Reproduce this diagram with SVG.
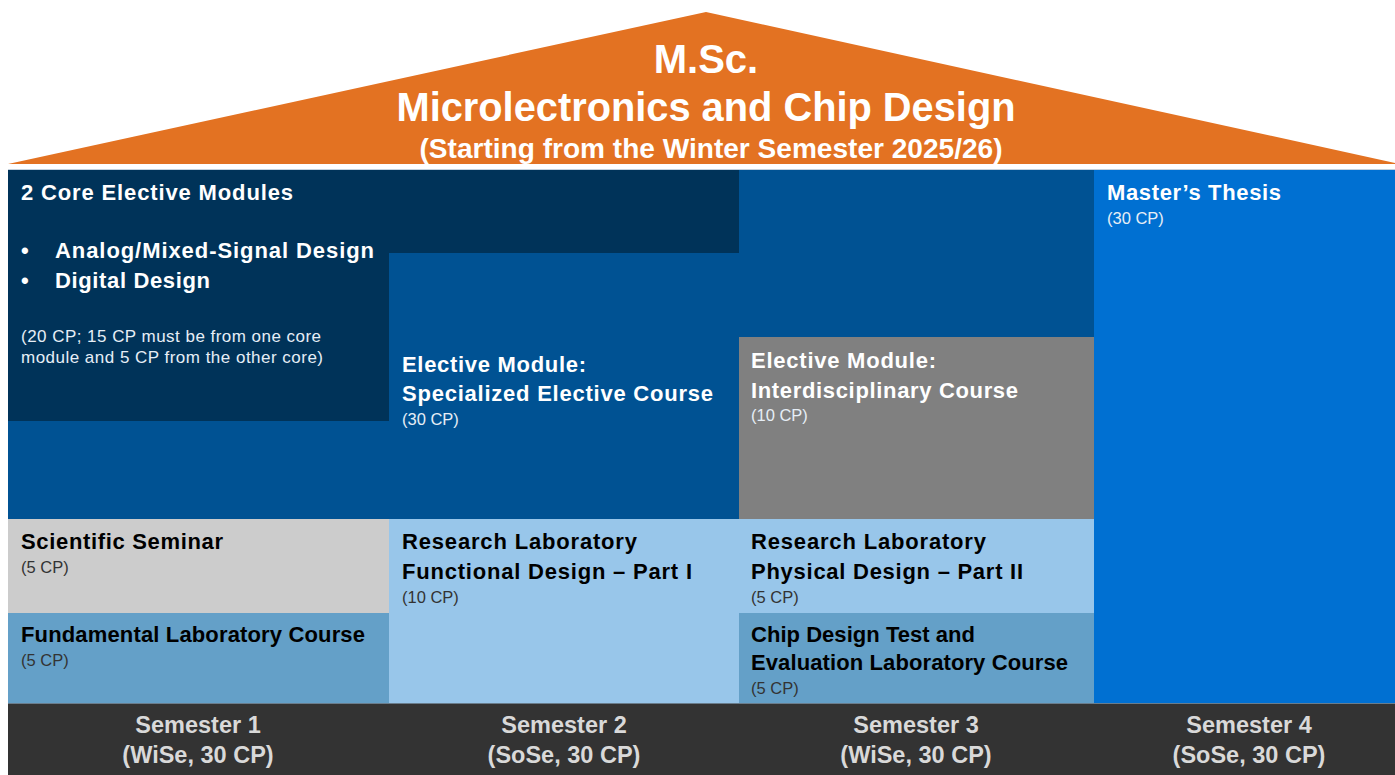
<svg xmlns="http://www.w3.org/2000/svg" width="1395" height="775" viewBox="0 0 1395 775">
  <style>
    .t { font-family: "Liberation Sans", Arial, sans-serif; font-weight: bold; font-size: 22px; }
    .w { fill: #ffffff; }
    .k { fill: #000000; }
    .s { font-family: "Liberation Sans", Arial, sans-serif; font-size: 16.5px; }
    .n { font-family: "Liberation Sans", Arial, sans-serif; font-size: 17px; }
    .sw { fill: #e6eef6; }
    .sk { fill: #333333; }
    .sem { font-family: "Liberation Sans", Arial, sans-serif; font-weight: bold; font-size: 23.5px; fill: #d9d9d9; text-anchor: middle; }
  </style>
  <rect x="0" y="0" width="1395" height="775" fill="#ffffff"/>

  <g id="roof">
    <polygon points="8,164 706,12 1395,163 1395,164" fill="#e37222"/>
    <text x="706" y="73" text-anchor="middle" font-family="Liberation Sans, Arial, sans-serif" font-weight="bold" font-size="40" fill="#ffffff">M.Sc.</text>
    <text x="706" y="121" text-anchor="middle" font-family="Liberation Sans, Arial, sans-serif" font-weight="bold" font-size="40" fill="#ffffff" textLength="619" lengthAdjust="spacingAndGlyphs">Microlectronics and Chip Design</text>
    <text x="711" y="158" text-anchor="middle" font-family="Liberation Sans, Arial, sans-serif" font-weight="bold" font-size="28" fill="#ffffff" textLength="583" lengthAdjust="spacingAndGlyphs">(Starting from the Winter Semester 2025/26)</text>
  </g>

  <line x1="8" y1="169.5" x2="1395" y2="169.5" stroke="#c3d0dc" stroke-width="1"/>

  <g id="specialized-elective">
    <rect x="8" y="170" width="1086" height="349" fill="#005293"/>
    <text class="t w" x="402" y="372" textLength="184" lengthAdjust="spacing">Elective Module:</text>
    <text class="t w" x="402" y="401" textLength="311" lengthAdjust="spacing">Specialized Elective Course</text>
    <text class="s sw" x="402" y="425">(30 CP)</text>
  </g>

  <g id="core-elective">
    <polygon points="8,170 739,170 739,253 389,253 389,421 8,421" fill="#003359"/>
    <text class="t w" x="21" y="200" textLength="272" lengthAdjust="spacing">2 Core Elective Modules</text>
    <text class="t w" x="21" y="258">•</text>
    <text class="t w" x="55" y="258" textLength="319" lengthAdjust="spacing">Analog/Mixed-Signal  Design</text>
    <text class="t w" x="21" y="288">•</text>
    <text class="t w" x="55" y="288" textLength="155" lengthAdjust="spacing">Digital Design</text>
    <text class="n sw" x="21" y="342" textLength="300" lengthAdjust="spacing">(20 CP; 15 CP must be from one core</text>
    <text class="n sw" x="21" y="363" textLength="302" lengthAdjust="spacing">module and 5 CP from the other core)</text>
  </g>

  <g id="interdisciplinary">
    <rect x="739" y="337" width="355" height="182" fill="#808080"/>
    <text class="t w" x="751" y="368" textLength="185" lengthAdjust="spacing">Elective Module:</text>
    <text class="t w" x="751" y="398" textLength="267" lengthAdjust="spacing">Interdisciplinary  Course</text>
    <text class="s sw" x="751" y="421">(10 CP)</text>
  </g>

  <g id="masters-thesis">
    <rect x="1094" y="170" width="301" height="533" fill="#0070d2"/>
    <text class="t w" x="1107" y="200" textLength="174" lengthAdjust="spacing">Master’s Thesis</text>
    <text class="s sw" x="1107" y="224">(30 CP)</text>
  </g>

  <g id="scientific-seminar">
    <rect x="8" y="519" width="381" height="94" fill="#cccccc"/>
    <text class="t k" x="21" y="549" textLength="202" lengthAdjust="spacing">Scientific Seminar</text>
    <text class="s sk" x="21" y="573">(5 CP)</text>
  </g>

  <g id="fundamental-lab">
    <rect x="8" y="613" width="381" height="90" fill="#64a0c8"/>
    <text class="t k" x="21" y="642" textLength="344" lengthAdjust="spacing">Fundamental Laboratory Course</text>
    <text class="s sk" x="21" y="666">(5 CP)</text>
  </g>

  <g id="research-lab-functional">
    <rect x="389" y="519" width="350" height="184" fill="#98c6ea"/>
    <text class="t k" x="402" y="549" textLength="235" lengthAdjust="spacing">Research Laboratory</text>
    <text class="t k" x="402" y="579" textLength="290" lengthAdjust="spacing">Functional  Design – Part I</text>
    <text class="s sk" x="402" y="603">(10 CP)</text>
  </g>

  <g id="research-lab-physical">
    <rect x="739" y="519" width="355" height="94" fill="#98c6ea"/>
    <text class="t k" x="751" y="549" textLength="235" lengthAdjust="spacing">Research Laboratory</text>
    <text class="t k" x="751" y="579" textLength="272" lengthAdjust="spacing">Physical  Design – Part II</text>
    <text class="s sk" x="751" y="603">(5 CP)</text>
  </g>

  <g id="chip-design-test">
    <rect x="739" y="613" width="355" height="90" fill="#64a0c8"/>
    <text class="t k" x="751" y="642" textLength="224" lengthAdjust="spacing">Chip Design Test and</text>
    <text class="t k" x="751" y="670" textLength="317" lengthAdjust="spacing">Evaluation Laboratory Course</text>
    <text class="s sk" x="751" y="694">(5 CP)</text>
  </g>

  <g id="semester-bar">
    <rect x="8" y="703" width="1387" height="72" fill="#333333"/>
    <line x1="8" y1="703.5" x2="1395" y2="703.5" stroke="#6a7d8c" stroke-width="1"/>
    <text class="sem" x="198" y="733">Semester 1</text>
    <text class="sem" x="198" y="763">(WiSe, 30 CP)</text>
    <text class="sem" x="564" y="733">Semester 2</text>
    <text class="sem" x="564" y="763">(SoSe, 30 CP)</text>
    <text class="sem" x="916" y="733">Semester 3</text>
    <text class="sem" x="916" y="763">(WiSe, 30 CP)</text>
    <text class="sem" x="1249" y="733">Semester 4</text>
    <text class="sem" x="1249" y="763">(SoSe, 30 CP)</text>
  </g>

  <g id="connectors"/>
</svg>
